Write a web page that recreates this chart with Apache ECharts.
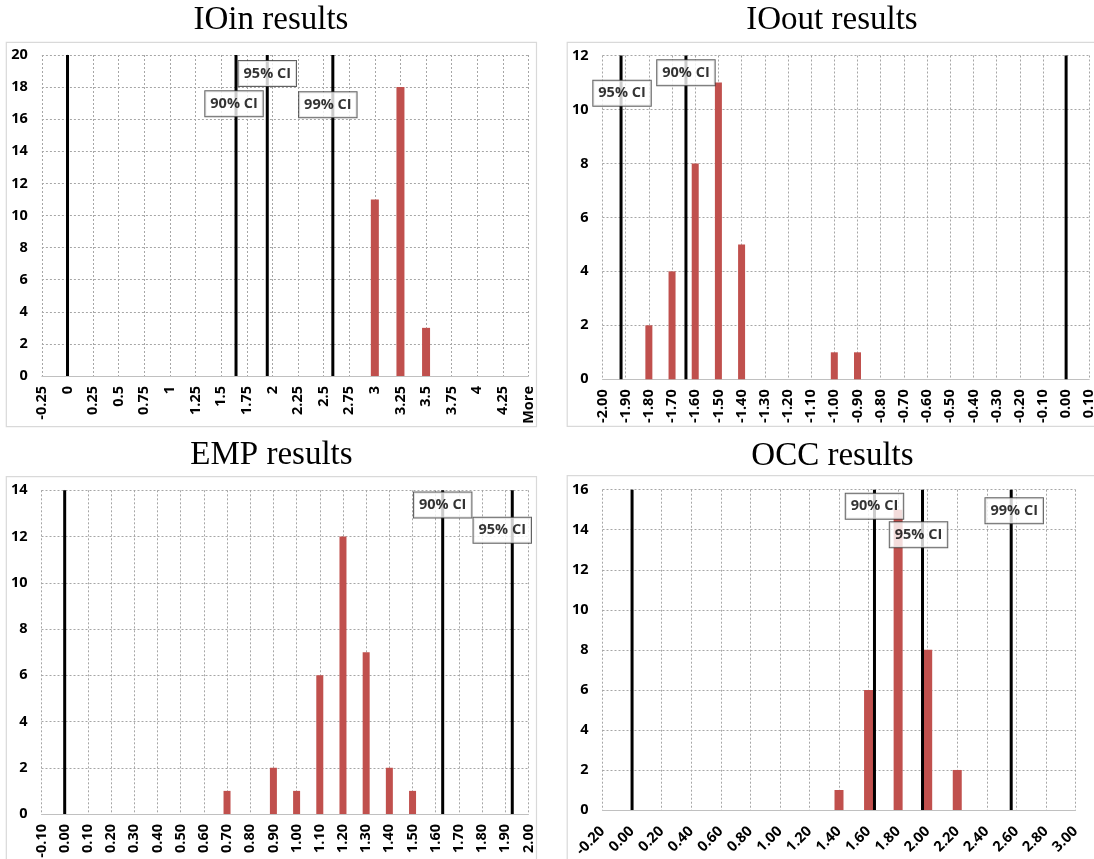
<!DOCTYPE html>
<html><head><meta charset="utf-8">
<script src="https://cdn.jsdelivr.net/npm/echarts@6/dist/echarts.min.js"></script>
<style>html,body{margin:0;padding:0;background:#fff}#c{width:1094px;height:859px}</style>
</head><body><div id="c"></div>
<script>
// ---------- DATA ----------
const zeroLine = 0;

const ioinBins = ['-0.25','0','0.25','0.5','0.75','1','1.25','1.5','1.75','2','2.25','2.5','2.75','3','3.25','3.5','3.75','4','4.25','More'];
const ioinCounts = [0,0,0,0,0,0,0,0,0,0,0,0,0,11,18,3,0,0,0,0];
const ioinCiLabels = ['90% CI','95% CI','99% CI'];
const ioinCiValues = [1.645,1.95,2.59];

const ioutBins = ['-2.00','-1.90','-1.80','-1.70','-1.60','-1.50','-1.40','-1.30','-1.20','-1.10','-1.00','-0.90','-0.80','-0.70','-0.60','-0.50','-0.40','-0.30','-0.20','-0.10','0.00','0.10'];
const ioutCounts = [0,0,2,4,8,11,5,0,0,0,1,1,0,0,0,0,0,0,0,0,0,0];
const ioutCiLabels = ['95% CI','90% CI'];
const ioutCiValues = [-1.92,-1.64];

const empBins = ['-0.10','0.00','0.10','0.20','0.30','0.40','0.50','0.60','0.70','0.80','0.90','1.00','1.10','1.20','1.30','1.40','1.50','1.60','1.70','1.80','1.90','2.00'];
const empCounts = [0,0,0,0,0,0,0,0,1,0,2,1,6,12,7,2,1,0,0,0,0,0];
const empCiLabels = ['90% CI','95% CI'];
const empCiValues = [1.63,1.93];

const occBins = ['-0.20','0.00','0.20','0.40','0.60','0.80','1.00','1.20','1.40','1.60','1.80','2.00','2.20','2.40','2.60','2.80','3.00'];
const occCounts = [0,0,0,0,0,0,0,0,1,6,15,8,2,0,0,0,0];
const occCiLabels = ['90% CI','95% CI','99% CI'];
const occCiValues = [1.64,1.965,2.565];

const titles = ['IOin results','IOout results','EMP results','OCC results'];
const yMaxes = [20,12,14,16];

// ---------- LAYOUT ----------
const panels = [
  {bins:ioinBins, counts:ioinCounts, ciLabels:ioinCiLabels, ciValues:ioinCiValues},
  {bins:ioutBins, counts:ioutCounts, ciLabels:ioutCiLabels, ciValues:ioutCiValues},
  {bins:empBins, counts:empCounts, ciLabels:empCiLabels, ciValues:empCiValues},
  {bins:occBins, counts:occCounts, ciLabels:occCiLabels, ciValues:occCiValues}
];
const layouts = [
  {grid:{left:41.9, top:55, width:486.6, height:321}, tx:271, ty:20.5, frame:[6.3,42.3,530.2,384.4], barWidth:8, rot:90, xMargin:10, labY:[16.96,18.85,16.9], labDx:[-2,0,-5]},
  {grid:{left:602.5, top:55.5, width:486.8, height:323.8}, tx:832, ty:20.8, frame:[567.2,42.3,540,384], barWidth:7, rot:90, xMargin:10, labY:[10.6,11.36], labDx:[1,0]},
  {grid:{left:41.5, top:490.3, width:487, height:323.7}, tx:271.5, ty:455.5, frame:[6.3,476.7,530.2,400], barWidth:7, rot:90, xMargin:10, labY:[13.36,12.27], labDx:[0,-10]},
  {grid:{left:602.5, top:489.7, width:473, height:320.3}, tx:832.5, ty:456, frame:[567.2,475.7,540,400], barWidth:9, rot:45, xMargin:19, labY:[15.17,13.75,14.95], labDx:[0,-4,3]}
];

const labelFont = '"Open Sans", "Noto Sans", sans-serif';
const gridLine = {show:true, lineStyle:{color:'#a6a6a6', width:1, type:[2,2]}};
const axisLineStyle = {show:true, lineStyle:{color:'#c0c0c0', width:1}};

const option = {animation:false, backgroundColor:'#fff', grid:[], xAxis:[], yAxis:[], series:[], graphic:[]};

panels.forEach((p, i) => {
  const L = layouts[i];
  const yMax = yMaxes[i];
  const first = Number(p.bins[0]);
  const step = Number(p.bins[1]) - first;
  const last = first + step * (p.bins.length - 1);

  option.graphic.push({type:'rect', silent:true, z:-10,
    shape:{x:L.frame[0], y:L.frame[1], width:L.frame[2], height:L.frame[3]},
    style:{fill:'none', stroke:'#d9d9d9', lineWidth:1.2}});
  option.graphic.push({type:'text', silent:true, x:L.tx, y:L.ty,
    style:{text:titles[i], textAlign:'center', textVerticalAlign:'middle',
      font:'33px "Liberation Serif", "Times New Roman", serif', fill:'#000'}});

  option.grid.push(Object.assign({outerBoundsMode:'none', containLabel:false}, L.grid));

  option.xAxis.push({type:'category', gridIndex:i, data:p.bins, boundaryGap:false,
    axisLine:axisLineStyle, axisTick:{show:false},
    axisLabel:{interval:0, hideOverlap:false, rotate:L.rot, margin:L.xMargin, color:'#000', fontWeight:'bold', fontSize:14.5, fontFamily:labelFont},
    splitLine:Object.assign({interval:0}, gridLine)});
  option.xAxis.push({type:'value', gridIndex:i, show:false, min:first, max:last, splitLine:{show:false}});

  option.yAxis.push({type:'value', gridIndex:i, min:0, max:yMax, interval:2,
    axisLine:axisLineStyle, axisTick:{show:false},
    axisLabel:{margin:14, color:'#000', fontWeight:'bold', fontSize:14.5, fontFamily:labelFont},
    splitLine:gridLine});

  option.series.push({type:'bar', xAxisIndex:2*i, yAxisIndex:i, data:p.counts, barWidth:L.barWidth,
    itemStyle:{color:'#c0504d'}, z:2, silent:true});

  [zeroLine].concat(p.ciValues).forEach(v => {
    option.series.push({type:'line', xAxisIndex:2*i+1, yAxisIndex:i, data:[[v,0],[v,yMax]],
      symbol:'none', lineStyle:{color:'#000', width:3}, z:3, silent:true});
  });

  option.series.push({type:'scatter', xAxisIndex:2*i+1, yAxisIndex:i, symbol:'rect', symbolSize:1,
    itemStyle:{color:'rgba(0,0,0,0)'}, z:5, silent:true,
    data:p.ciLabels.map((t,k) => ({name:t, value:[p.ciValues[k], L.labY[k]], label:{offset:[L.labDx[k],0]}})),
    label:{show:true, position:'inside', formatter:'{b}', color:'#000', fontWeight:'bold', fontSize:14.5,
      fontFamily:labelFont, lineHeight:15, backgroundColor:'#fff', borderColor:'#3a3a3a', borderWidth:1,
      textBorderWidth:0, padding:[5,5,5,5]}});
});

const chart = echarts.init(document.getElementById('c'), null, {renderer:'canvas'});
chart.setOption(option);
</script>
</body></html>
